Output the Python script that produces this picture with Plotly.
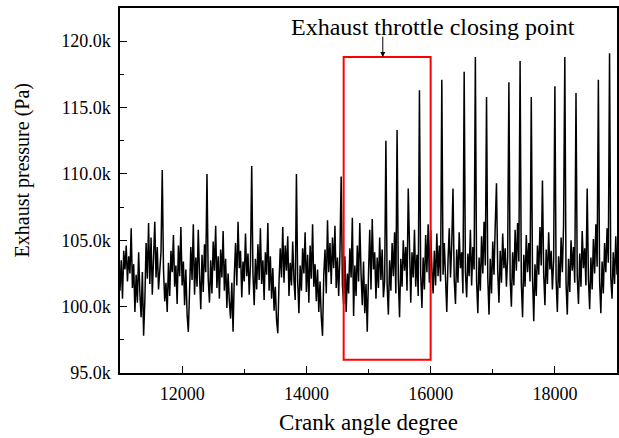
import plotly.graph_objects as go

# Sampling of the crank angle axis
crank_start = 11000
crank_step = 20

# Exhaust pressure in kPa (one value every 20 deg CA)
pressure_kpa = [
    101.2, 103.5, 100.6, 104.2, 102.8, 104.6, 101.9, 103.8, 102.5, 105.9,
    101.4, 103.2, 99.6, 102.4, 100.3, 104.1, 101.0, 99.2, 102.6, 97.8,
    100.5, 104.8, 102.1, 106.3, 101.7, 105.2, 100.9, 103.6, 106.4, 102.2,
    104.5, 101.3, 103.0, 104.1, 110.3, 102.8, 100.4, 101.8, 99.6, 103.3,
    100.8, 104.2, 102.6, 105.4, 101.5, 103.1, 100.2, 104.6, 102.3, 106.0,
    101.6, 103.4, 100.1, 102.8, 99.4, 98.1, 101.2, 104.5, 102.0, 106.2,
    100.9, 103.7, 101.5, 105.8, 102.4, 99.8, 103.9, 101.1, 104.7, 102.6,
    110.0, 102.1, 100.3, 103.5, 101.0, 104.9, 102.7, 106.1, 101.4, 103.8,
    100.6, 104.3, 102.2, 105.7, 101.2, 103.6, 99.9, 102.5, 100.4, 99.1,
    101.8, 98.1, 102.3, 104.8, 101.6, 106.4, 102.9, 104.2, 100.7, 103.4,
    101.9, 105.5, 102.3, 104.0, 100.9, 103.2, 110.6, 102.5, 100.1, 103.6,
    101.3, 104.7, 102.0, 105.9, 101.7, 103.5, 100.5, 104.1, 102.4, 106.3,
    101.2, 103.8, 100.6, 102.9, 99.7, 101.5, 99.0, 98.0, 101.9, 104.4,
    102.2, 106.0, 101.8, 104.6, 102.7, 105.3, 100.8, 103.3, 101.6, 104.9,
    102.0, 100.5, 110.0, 101.9, 99.5, 103.1, 101.2, 104.4, 102.5, 105.6,
    101.1, 103.9, 100.3, 104.6, 102.1, 106.2, 101.5, 103.2, 100.4, 102.8,
    99.6, 101.9, 99.2, 97.8, 102.4, 104.3, 101.0, 106.5, 102.6, 104.8,
    101.7, 105.2, 102.9, 106.1, 101.4, 103.7, 100.8, 104.0, 109.8, 101.6,
    100.2, 103.8, 99.6, 102.5, 101.0, 104.4, 102.2, 106.7, 99.3, 103.1,
    100.8, 104.6, 101.9, 106.3, 102.5, 100.1, 103.4, 99.5, 101.7, 98.1,
    102.4, 105.8, 101.3, 106.6, 102.8, 104.1, 100.6, 103.7, 101.4, 105.2,
    102.0, 104.3, 100.7, 101.9, 112.5, 101.6, 99.4, 103.5, 101.2, 104.8,
    102.3, 105.6, 101.0, 113.3, 102.1, 99.2, 103.6, 101.5, 105.0, 102.7,
    104.5, 101.2, 108.9, 102.8, 100.3, 104.1, 102.2, 105.8, 101.5, 103.9,
    100.8, 116.3, 102.5, 99.9, 103.7, 101.3, 105.4, 102.6, 106.2, 101.8,
    105.8, 102.9, 101.0, 104.2, 101.6, 105.5, 102.3, 104.6, 101.9, 117.1,
    102.4, 104.8, 101.3, 99.6, 103.5, 105.9, 102.2, 104.7, 108.9, 102.0,
    100.2, 104.3, 101.8, 105.6, 102.9, 104.1, 101.0, 117.7, 102.6, 100.7,
    104.0, 102.3, 105.8, 101.6, 104.5, 102.8, 118.8, 101.9, 99.5, 103.7,
    101.2, 105.3, 102.5, 106.4, 103.1, 115.8, 102.2, 99.4, 103.6, 101.0,
    104.9, 102.4, 106.1, 109.3, 102.7, 100.3, 104.2, 101.8, 105.5, 102.9,
    104.4, 101.5, 103.7, 116.9, 102.1, 100.0, 104.1, 101.6, 105.8, 102.7,
    106.3, 103.4, 118.5, 101.8, 99.2, 103.9, 101.5, 105.4, 102.6, 104.8,
    101.9, 115.8, 102.3, 98.9, 103.2, 100.8, 104.6, 102.4, 106.0, 103.1,
    109.5, 102.5, 100.1, 104.3, 101.7, 105.6, 102.8, 104.2, 101.3, 103.5,
    116.6, 102.0, 99.6, 103.8, 101.4, 105.2, 102.6, 106.1, 118.8, 101.7,
    99.4, 103.6, 101.1, 105.0, 102.7, 104.5, 101.8, 116.1, 102.3, 100.2,
    104.0, 101.5, 105.7, 102.9, 104.4, 101.6, 108.9, 102.1, 99.8, 103.7,
    101.3, 105.1, 102.5, 106.2, 103.0, 117.1, 101.9, 99.5, 103.4, 101.0,
    104.8, 102.6, 105.9, 103.3, 119.1, 102.2, 100.6, 104.1, 101.7, 105.3,
    102.4,
]

crank = [crank_start + crank_step * i for i in range(len(pressure_kpa))]
pressure_pa = [v * 1000 for v in pressure_kpa]

x_tickvals = [12000, 14000, 16000, 18000]
x_ticktext = ["12000", "14000", "16000", "18000"]
x_minorvals = [13000, 15000, 17000]
y_tickvals = [95000, 100000, 105000, 110000, 115000, 120000]
y_ticktext = ["95.0k", "100.0k", "105.0k", "110.0k", "115.0k", "120.0k"]
y_minorvals = [97500, 102500, 107500, 112500, 117500]

# Highlight box and annotation
box_x = [14600, 16000]
box_y = [96000, 118800]
arrow_x = 15230
label_text = "Exhaust throttle closing point"
label_x = 16040
label_y = 121100
x_title = "Crank angle degree"
y_title = "Exhaust pressure (Pa)"

FONT = "Liberation Serif"

fig = go.Figure()
fig.add_trace(go.Scatter(
    x=crank, y=pressure_pa, mode="lines",
    line=dict(color="black", width=1.5),
    hoverinfo="skip", showlegend=False,
))

fig.add_shape(type="rect", xref="x", yref="y",
              x0=box_x[0], x1=box_x[1], y0=box_y[0], y1=box_y[1],
              line=dict(color="#ff0000", width=2), fillcolor="rgba(0,0,0,0)")

fig.add_annotation(x=label_x, y=label_y, xref="x", yref="y",
                   text=label_text, showarrow=False,
                   font=dict(family=FONT, size=24, color="black"),
                   xanchor="center", yanchor="middle")
fig.add_annotation(x=arrow_x, y=box_y[1], xref="x", yref="y",
                   text="", showarrow=True, ax=0, ay=-22,
                   arrowhead=2, arrowsize=1, arrowwidth=1, arrowcolor="black")

# y-axis title (placed as rotated text, as in the original)
fig.add_annotation(x=-0.1964, y=0.556, xref="paper", yref="paper",
                   text=y_title, showarrow=False, textangle=-90,
                   font=dict(family=FONT, size=20, color="black"),
                   xanchor="center", yanchor="middle")

axis_common = dict(
    showline=True, linecolor="black", linewidth=1.5, mirror=True,
    ticks="inside", ticklen=7, tickwidth=1.3, tickcolor="black",
    showgrid=False, zeroline=False,
    tickfont=dict(family=FONT, size=18, color="black"),
)

fig.update_xaxes(
    range=[11000, 19000], tickmode="array",
    tickvals=x_tickvals, ticktext=x_ticktext,
    minor=dict(tickmode="array", tickvals=x_minorvals, ticks="inside",
               ticklen=4, tickwidth=1.3, tickcolor="black"),
    title=dict(text=x_title,
               font=dict(family=FONT, size=23, color="black"), standoff=11),
    ticklabelstandoff=4,
    **axis_common,
)
fig.update_yaxes(
    range=[95000, 122500], tickmode="array",
    tickvals=y_tickvals, ticktext=y_ticktext,
    minor=dict(tickmode="array", tickvals=y_minorvals, ticks="inside",
               ticklen=4, tickwidth=1.3, tickcolor="black"),
    ticklabelstandoff=4,
    **axis_common,
)

fig.update_layout(
    width=619, height=438,
    margin=dict(l=120, r=0, t=8, b=65),
    paper_bgcolor="white", plot_bgcolor="white",
    font=dict(family=FONT, color="black"),
)

fig.write_html("out.html", config={"displayModeBar": False})
